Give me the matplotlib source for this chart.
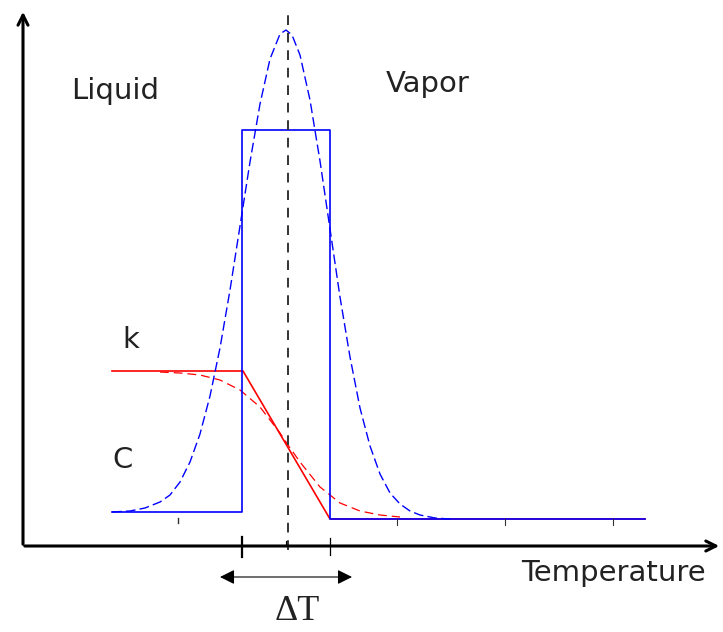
import matplotlib
matplotlib.use("Agg")
from matplotlib import pyplot as plt

# schematic coords: x = temperature (arbitrary units), y = property value
# origin sits where the two axes meet

# step function C (specific heat, apparent)
x_c = [89, 219, 219, 307, 307, 622]
y_c = [34, 34, 416, 416, 27, 27]

# smoothed C (gaussian-like)
x_cs = [89, 107, 122, 137, 147, 157, 167, 177, 187, 197, 207, 217, 227, 237, 247,
        257, 263, 269, 277, 287, 297, 307, 317, 327, 337, 347, 357, 367, 377, 387,
        397, 412, 427]
y_cs = [34, 35, 38, 44, 51, 64, 84, 112, 150, 198, 256, 320, 384, 442, 487,
        512, 516, 511, 491, 446, 385, 317, 249, 189, 138, 100, 72, 53, 42, 35,
        31, 28, 27]

# conductivity k, piecewise linear
x_k = [89, 220, 307, 622]
y_k = [175, 175, 27, 27]

# smoothed k
x_ks = [137, 157, 177, 197, 217, 237, 257, 265, 277, 297, 317, 337, 357, 377]
y_ks = [174, 173, 171, 166, 156, 139, 113, 101, 84, 59, 43, 35, 31, 29]

T_mid = 265
T1, T2 = 219, 307
small_ticks = [155, 374, 482, 590]

fig = plt.figure(figsize=(7.23, 6.32), dpi=100)
ax = fig.add_axes([0, 0, 1, 1])
ax.set_xlim(-23, 700)
ax.set_ylim(-86, 546)
ax.axis("off")

# axes with arrows
ax.annotate("", xy=(0, 537), xytext=(0, -1),
            arrowprops=dict(arrowstyle="->", lw=2.2, color="black", mutation_scale=18))
ax.annotate("", xy=(699, 0), xytext=(-1, 0),
            arrowprops=dict(arrowstyle="->", lw=2.2, color="black", mutation_scale=18))

# red k curves
ax.plot(x_k, y_k, color="red", lw=1.2)
ax.plot(x_ks, y_ks, color="red", lw=0.9, dashes=(7, 4))

# blue C curves
ax.plot(x_cs, y_cs, color="blue", lw=1.0, dashes=(7, 3))
ax.plot(x_c, y_c, color="blue", lw=1.2)

# center line
ax.plot([T_mid, T_mid], [-4, 533], color="#333333", lw=1.4, dashes=(5, 4))

# ticks on the T axis
ax.plot([T1, T1], [-11, 9], color="black", lw=1.6)
ax.plot([T2, T2], [-9, 8], color="black", lw=0.9)
ax.plot([263, 263], [0, 5], color="black", lw=0.8)
ax.plot([small_ticks[0]] * 2, [23, 28], color="#333333", lw=1.0)
for t in small_ticks[1:]:
    ax.plot([t, t], [21, 27], color="#333333", lw=0.8)

# delta T double arrow
ax.annotate("", xy=(329, -31), xytext=(197, -31),
            arrowprops=dict(arrowstyle="<|-|>", lw=0.8, color="black",
                            mutation_scale=22, shrinkA=0, shrinkB=0))

fs = 21
ax.text(92, 455, "Liquid", fontsize=fs, ha="center", va="center", color="#222222")
ax.text(405, 462, "Vapor", fontsize=fs, ha="center", va="center", color="#222222")
ax.text(108, 206, "k", fontsize=fs, ha="center", va="center", color="#222222")
ax.text(100, 86, "C", fontsize=fs, ha="center", va="center", color="#222222")
ax.text(590, -27, "Temperature", fontsize=fs, ha="center", va="center", color="#222222")
ax.text(274, -66, "\u0394T", fontsize=26, ha="center", va="center",
        family=["Liberation Serif", "DejaVu Serif"], color="#222222")

fig.savefig("out.png", dpi=100)
